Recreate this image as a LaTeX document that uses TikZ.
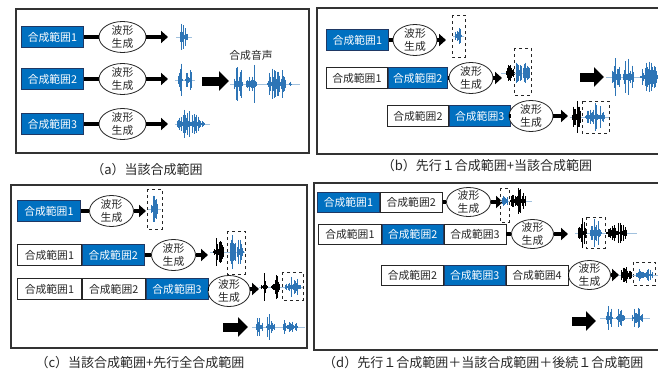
\documentclass[tikz,border=0pt]{standalone}
\usepackage{fontspec}
\setmainfont{Noto Sans CJK JP}
\usetikzlibrary{shapes.geometric,arrows.meta}
\definecolor{boxblue}{RGB}{0,112,192}
\definecolor{boxedge}{RGB}{31,56,100}
\definecolor{wblue}{RGB}{46,117,182}
\tikzset{
  blu/.style={rectangle,draw=boxedge,line width=0.8pt,fill=boxblue,text=white,minimum width=62pt,minimum height=21pt,inner sep=0pt,font=\fontsize{10.8}{12}\selectfont,anchor=west},
  wht/.style={rectangle,draw=black!85,line width=0.8pt,fill=white,text=black!85,minimum width=62pt,minimum height=21pt,inner sep=0pt,font=\fontsize{10.8}{12}\selectfont,anchor=west},
  gen/.style={ellipse,draw=black!85,line width=0.8pt,fill=white,minimum width=44pt,minimum height=31pt,inner sep=0pt},
  gtext/.style={align=center,inner sep=0pt,font=\fontsize{10.8}{12.5}\selectfont,text=black!85},
  conn/.style={line width=4.5pt,black},
  arr/.style={line width=4.5pt,black,-{Triangle[length=7pt,width=12pt]}},
  bigarr/.style={line width=9pt,black,-{Triangle[length=10pt,width=19pt]}},
  panelframe/.style={draw=black!80,line width=1.2pt},
  dbox/.style={draw=black!85,dashed,line width=0.8pt},
  captxt/.style={font=\fontsize{13}{15}\selectfont,text=black!85,inner sep=0pt},
  lbl/.style={font=\fontsize{10.8}{12}\selectfont,text=black!85,inner sep=0pt}
}
\newcommand\burst[6]{%
  \pgfmathsetseed{#6}%
  \pgfmathtruncatemacro\wvN{(#2-#1)/1.0}%
  \foreach \wi in {0,...,\wvN}{%
    \pgfmathsetmacro\wvX{#1+\wi*1.0}%
    \pgfmathsetmacro\wvE{sqrt(sin(180*(\wi+0.5)/(\wvN+1)))}%
    \pgfmathsetmacro\wvA{#4/2*\wvE*(0.12+0.88*rnd^1.5)}%
    \draw[#5,line width=0.5pt] (\wvX,#3-\wvA) -- (\wvX,#3+\wvA);%
  }}
\newcommand\wline[4]{\draw[#4!45,line width=0.4pt] (#1,#3) -- (#2,#3);}
\begin{document}
\begin{tikzpicture}[x=1pt,y=-1pt]
\useasboundingbox (0,0) rectangle (658,372);
\clip (0,0) rectangle (658,372);
\fill[white] (0,0) rectangle (658,372);

% ================= (a) =================
\draw[panelframe] (16,9) rectangle (309,153);
\node[captxt] (capa) at (147,170) {（a）当該合成範囲};
\foreach \r/\y/\t in {1/37/1,2/79/2,3/124/3}{
  \node[blu] (ba\r) at (21,\y) {合成範囲\t};
  \node[gen,minimum width=47pt] (ga\r) at (122.5,\y) {};
  \node[gtext] (gta\r) at (ga\r) {波形\\生成};
  \coordinate (ta\r) at (168,\y);
  \draw[conn] (ba\r.east) -- (ga\r.west);
  \draw[arr] (ga\r.east) -- (ta\r);
}
\wline{176}{192}{37}{wblue}
\burst{180}{187}{37}{38}{wblue}{11}
\wline{175}{195}{80}{wblue}
\burst{178}{182}{80}{42}{wblue}{12}
\burst{185}{191}{80}{36}{wblue}{13}
\wline{175}{210}{124}{wblue}
\burst{177}{200}{124}{34}{wblue}{14}
\burst{201}{204}{124}{8}{wblue}{15}
\coordinate (sa) at (202,81);
\coordinate (ea) at (229,81);
\draw[bigarr] (sa) -- (ea);
\node[lbl] (voice) at (251,55) {合成音声};
\wline{230}{300}{84}{wblue}
\burst{234}{242}{84}{46}{wblue}{21}
\burst{246}{256}{84}{48}{wblue}{22}
\burst{267}{285}{84}{38}{wblue}{23}
\burst{289}{291}{84}{6}{wblue}{24}

% ================= (b) =================
\draw[panelframe] (317,8) rectangle (664,154);
\node[captxt] (capb) at (487,166) {（b）先行１合成範囲+当該合成範囲};
% row 1
\node[blu] (bb1) at (326,40) {合成範囲1};
\node[gen] (gb1) at (415,40) {};
\node[gtext] (gtb1) at (gb1) {波形\\生成};
\coordinate (tb1) at (446,40);
\draw[conn] (bb1.east) -- (gb1.west);
\draw[arr] (gb1.east) -- (tb1);
% row 2
\node[wht,minimum width=61pt] (bb2a) at (326,78) {合成範囲1};
\node[blu,minimum width=59pt] (bb2b) at (bb2a.east) {合成範囲2};
\node[gen] (gb2) at (471,78) {};
\node[gtext] (gtb2) at (gb2) {波形\\生成};
\coordinate (tb2) at (502,78);
\draw[conn] (bb2b.east) -- (gb2.west);
\draw[arr] (gb2.east) -- (tb2);
% row 3
\node[wht,minimum width=61pt] (bb3a) at (387,116) {合成範囲2};
\node[blu,minimum width=61pt] (bb3b) at (bb3a.east) {合成範囲3};
\node[gen] (gb3) at (531,116) {};
\node[gtext] (gtb3) at (gb3) {波形\\生成};
\coordinate (tb3) at (568,116);
\draw[conn] (bb3b.east) -- (gb3.west);
\draw[arr] (gb3.east) -- (tb3);
% waves
\draw[dbox] (452,15) rectangle (465,57);
\wline{453}{464}{36}{wblue}
\burst{455}{461}{36}{36}{wblue}{31}
\draw[dbox] (514,48) rectangle (531,95);
\wline{501}{530}{73}{wblue}
\burst{506}{513}{73}{34}{black}{32}
\burst{516}{521}{73}{42}{wblue}{33}
\burst{523}{529}{73}{36}{wblue}{34}
\draw[dbox] (582,101) rectangle (609,133);
\wline{570}{609}{117}{wblue}
\burst{572}{580}{117}{38}{black}{35}
\burst{585}{604}{117}{28}{wblue}{36}
\coordinate (sb) at (580,77);
\coordinate (eb) at (604,77);
\draw[bigarr] (sb) -- (eb);
\wline{606}{658}{77}{wblue}
\burst{612}{620}{77}{44}{wblue}{37}
\burst{623}{633}{77}{46}{wblue}{38}
\burst{640}{657}{77}{36}{wblue}{39}

% ================= (c) =================
\draw[panelframe] (11,185) rectangle (307,348);
\node[captxt] (capc) at (140,363) {（c）当該合成範囲+先行全合成範囲};
% row 1
\node[blu,minimum width=63pt] (bc1) at (17,211) {合成範囲1};
\node[gen] (gc1) at (111.5,211) {};
\node[gtext] (gtc1) at (gc1) {波形\\生成};
\coordinate (tc1) at (146,211);
\draw[conn] (bc1.east) -- (gc1.west);
\draw[arr] (gc1.east) -- (tc1);
% row 2
\node[wht,minimum width=64pt] (bc2a) at (17,255) {合成範囲1};
\node[blu,minimum width=62pt] (bc2b) at (bc2a.east) {合成範囲2};
\node[gen] (gc2) at (173.5,255) {};
\node[gtext] (gtc2) at (gc2) {波形\\生成};
\coordinate (tc2) at (208,255);
\draw[conn] (bc2b.east) -- (gc2.west);
\draw[arr] (gc2.east) -- (tc2);
% row 3
\node[wht,minimum width=64pt] (bc3a) at (17,289) {合成範囲1};
\node[wht,minimum width=63pt] (bc3b) at (bc3a.east) {合成範囲2};
\node[blu,minimum width=62pt] (bc3c) at (bc3b.east) {合成範囲3};
\node[gen,minimum width=42pt] (gc3) at (229,291) {};
\node[gtext] (gtc3) at (gc3) {波形\\生成};
\coordinate (tc3) at (259,289);
\draw[conn] (bc3c.east) -- (gc3.west |- bc3c.east);
\draw[arr] (gc3.east |- tc3) -- (tc3);
% waves
\draw[dbox] (147,189) rectangle (162,229);
\wline{148}{161}{209}{wblue}
\burst{151}{157}{209}{36}{wblue}{41}
\draw[dbox] (227,231) rectangle (245,274);
\wline{210}{245}{252}{wblue}
\burst{213}{223}{252}{32}{black}{42}
\burst{230}{235}{252}{38}{wblue}{43}
\burst{237}{243}{252}{34}{wblue}{44}
\draw[dbox] (282,272) rectangle (303,300);
\wline{259}{303}{287}{wblue}
\burst{261}{267}{287}{28}{black}{45}
\burst{271}{279}{287}{30}{black}{46}
\burst{285}{300}{287}{22}{wblue}{47}
\coordinate (sc) at (223,327);
\coordinate (ec) at (248,327);
\draw[bigarr] (sc) -- (ec);
\wline{252}{305}{327}{wblue}
\burst{256}{262}{327}{32}{wblue}{48}
\burst{266}{274}{327}{34}{wblue}{49}
\burst{283}{297}{327}{26}{wblue}{50}

% ================= (d) =================
\draw[panelframe] (314,183) rectangle (664,350);
\node[captxt,anchor=west] (capd) at (323,363) {（d）先行１合成範囲＋当該合成範囲＋後続１合成範囲};
% row 1
\node[blu,minimum height=20pt] (bd1a) at (317,202) {合成範囲1};
\node[wht,minimum height=20pt] (bd1b) at (bd1a.east) {合成範囲2};
\node[gen,minimum height=29pt] (gd1) at (468.5,202) {};
\node[gtext] (gtd1) at (gd1) {波形\\生成};
\coordinate (td1) at (503,202);
\draw[conn] (bd1b.east) -- (gd1.west);
\draw[arr] (gd1.east) -- (td1);
% row 2
\node[wht,minimum height=20pt,minimum width=63pt] (bd2a) at (318,234) {合成範囲1};
\node[blu,minimum height=20pt,minimum width=61pt] (bd2b) at (bd2a.east) {合成範囲2};
\node[wht,minimum height=20pt,minimum width=62pt] (bd2c) at (bd2b.east) {合成範囲3};
\node[gen,minimum width=42pt,minimum height=29pt] (gd2) at (532.5,234) {};
\node[gtext] (gtd2) at (gd2) {波形\\生成};
\coordinate (td2) at (568,234);
\draw[conn] (bd2c.east) -- (gd2.west);
\draw[arr] (gd2.east) -- (td2);
% row 3
\node[wht,minimum height=20pt] (bd3a) at (381,275) {合成範囲2};
\node[blu,minimum height=20pt,minimum width=61pt] (bd3b) at (bd3a.east) {合成範囲3};
\node[wht,minimum height=20pt] (bd3c) at (bd3b.east) {合成範囲4};
\node[gen,minimum width=42pt,minimum height=29pt] (gd3) at (589.5,275) {};
\node[gtext] (gtd3) at (gd3) {波形\\生成};
\coordinate (td3) at (619,275);
\draw[conn] (bd3c.east) -- (gd3.west);
\draw[arr] (gd3.east) -- (td3);
% waves
\draw[dbox] (500,188) rectangle (509,222);
\wline{500}{532}{201}{wblue}
\burst{502}{507}{201}{30}{wblue}{51}
\burst{510}{525}{201}{38}{black}{52}
\draw[dbox] (586,217) rectangle (605,248);
\wline{575}{637}{233}{wblue}
\burst{578}{586}{233}{30}{black}{53}
\burst{590}{601}{233}{30}{wblue}{54}
\burst{606}{626}{233}{26}{black}{55}
\draw[dbox] (633,262) rectangle (655,285);
\wline{619}{658}{275}{wblue}
\burst{621}{631}{275}{26}{black}{56}
\burst{636}{652}{275}{18}{wblue}{57}
\coordinate (sd) at (572,321);
\coordinate (ed) at (596,321);
\draw[bigarr] (sd) -- (ed);
\wline{600}{650}{318}{wblue}
\burst{606}{612}{318}{30}{wblue}{58}
\burst{616}{624}{318}{32}{wblue}{59}
\burst{632}{642}{318}{24}{wblue}{60}
\end{tikzpicture}
\end{document}
